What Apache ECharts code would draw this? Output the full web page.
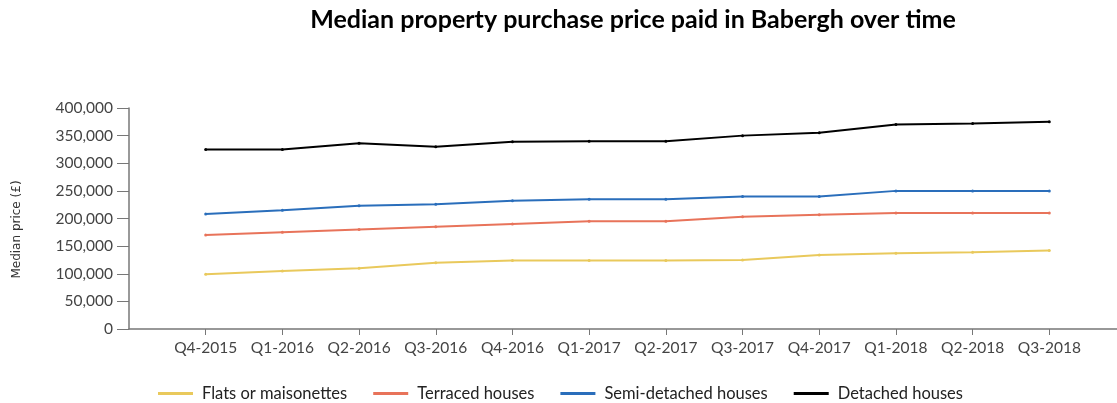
<!DOCTYPE html>
<html>
<head>
<meta charset="utf-8">
<script src="https://cdn.jsdelivr.net/npm/echarts@6/dist/echarts.min.js"></script>
<style>
  html, body { margin: 0; padding: 0; background: #fff; overflow: hidden; }
  /* 比窗口略宽，让x轴延伸到画面右边缘之外 */
  #chart { width: 1140px; height: 403px; }
</style>
</head>
<body>
<div id="chart"></div>
<script>
// 季度
const quarters = ['Q4-2015', 'Q1-2016', 'Q2-2016', 'Q3-2016', 'Q4-2016', 'Q1-2017',
  'Q2-2017', 'Q3-2017', 'Q4-2017', 'Q1-2018', 'Q2-2018', 'Q3-2018'];

// 各类房屋的中位价
const flats = [99000, 105000, 110000, 120000, 124000, 124000, 124000, 125000, 134000, 137000, 139000, 142000];
const terraced = [170000, 175000, 180000, 185000, 190000, 195000, 195000, 203000, 207000, 210000, 210000, 210000];
const semiDetached = [208000, 215000, 223000, 226000, 232000, 235000, 235000, 240000, 240000, 250000, 250000, 250000];
const detached = [325000, 325000, 336000, 330000, 339000, 340000, 340000, 350000, 355000, 370000, 372000, 375000];

const seriesNames = ['Flats or maisonettes', 'Terraced houses', 'Semi-detached houses', 'Detached houses'];
const seriesColors = ['#e9c95c', '#e8735a', '#2a6ebb', '#000000'];

const chart = echarts.init(document.getElementById('chart'));

// 两端各留一个空类目，让坐标轴比数据长一格
const cats = [''].concat(quarters, ['']);
const pad = arr => [null].concat(arr, [null]);

function makeSeries(name, data, color) {
  return {
    name: name,
    type: 'line',
    data: pad(data),
    color: color,
    symbol: 'circle',
    symbolSize: 3,
    showSymbol: true,
    lineStyle: { width: 2, color: color },
    itemStyle: { color: color }
  };
}

const option = {
  animation: false,
  title: {
    text: 'Median property purchase price paid in Babergh over time',
    left: 628,
    textAlign: 'center',
    top: 2,
    textStyle: {
      fontFamily: 'Lato',
      fontWeight: 'bold',
      fontSize: 25,
      color: '#000'
    }
  },
  legend: {
    left: 158,
    top: 385,
    padding: 0,
    icon: 'rect',
    itemWidth: 35,
    itemHeight: 3,
    itemGap: 26,
    data: seriesNames,
    textStyle: {
      fontFamily: 'Lato',
      fontSize: 16.5,
      color: '#222',
      padding: [0, 0, 0, 4]
    }
  },
  grid: {
    left: 129,
    right: 14,
    top: 108,
    bottom: 74,
    containLabel: false
  },
  xAxis: {
    type: 'category',
    data: cats,
    boundaryGap: false,
    axisLine: { lineStyle: { color: '#777', width: 1.5 } },
    axisTick: { length: 6, interval: i => i > 0, lineStyle: { color: '#777' } },
    axisLabel: {
      margin: 11,
      fontFamily: 'Lato',
      fontSize: 15.5,
      color: '#444',
      interval: 0
    },
    splitLine: { show: false }
  },
  yAxis: {
    type: 'value',
    min: 0,
    max: 400000,
    interval: 50000,
    name: 'Median price (£)',
    nameLocation: 'middle',
    nameGap: 106,
    nameTextStyle: { fontFamily: 'DejaVu Sans', fontSize: 12, color: '#333', padding: [0, 22, 0, 0] },
    axisLine: { show: true, lineStyle: { color: '#777', width: 1.5 } },
    axisTick: { show: true, length: 12, lineStyle: { color: '#777' } },
    axisLabel: {
      margin: 16,
      fontFamily: 'Lato',
      fontSize: 15.5,
      color: '#444',
      formatter: v => v.toLocaleString('en-GB')
    },
    splitLine: { show: false }
  },
  series: [
    makeSeries(seriesNames[0], flats, seriesColors[0]),
    makeSeries(seriesNames[1], terraced, seriesColors[1]),
    makeSeries(seriesNames[2], semiDetached, seriesColors[2]),
    makeSeries(seriesNames[3], detached, seriesColors[3])
  ]
};

option && chart.setOption(option);
</script>
</body>
</html>
